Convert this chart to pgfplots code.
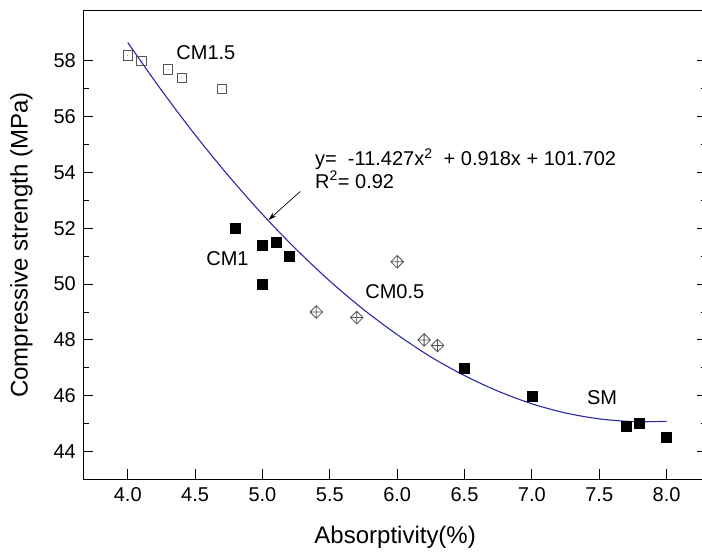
\documentclass[border=0pt]{standalone}
\usepackage{pgfplots}
\pgfplotsset{compat=1.18}
\usepackage{fontspec}
\setmainfont{Liberation Sans}
\usetikzlibrary{arrows.meta}
\definecolor{fitblue}{RGB}{42,42,165}
\definecolor{mgray}{RGB}{85,85,85}
\pgfdeclareplotmark{dsquare}{%
  \pgfpathrectangle{\pgfqpoint{-\pgfplotmarksize}{-\pgfplotmarksize}}{\pgfqpoint{2\pgfplotmarksize}{2\pgfplotmarksize}}%
  \pgfusepathqstroke
  \pgfpathcircle{\pgfpointorigin}{0.45pt}\pgfusepathqfill}
\pgfdeclareplotmark{xdiamond}{%
  \pgfpathmoveto{\pgfqpoint{0pt}{\pgfplotmarksize}}%
  \pgfpathlineto{\pgfqpoint{\pgfplotmarksize}{0pt}}%
  \pgfpathlineto{\pgfqpoint{0pt}{-\pgfplotmarksize}}%
  \pgfpathlineto{\pgfqpoint{-\pgfplotmarksize}{0pt}}%
  \pgfpathclose
  \pgfpathmoveto{\pgfqpoint{0pt}{\pgfplotmarksize}}\pgfpathlineto{\pgfqpoint{0pt}{-\pgfplotmarksize}}%
  \pgfpathmoveto{\pgfqpoint{\pgfplotmarksize}{0pt}}\pgfpathlineto{\pgfqpoint{-\pgfplotmarksize}{0pt}}%
  \pgfusepathqstroke}
\begin{document}
\begin{tikzpicture}
\begin{axis}[
  scale only axis, width=623.7pt, height=468.7pt,
  xmin=3.67, xmax=8.3, ymin=43, ymax=59.8,
  xtick={4,4.5,5,5.5,6,6.5,7,7.5,8},
  ytick={44,46,48,50,52,54,56,58},
  minor y tick num=1,
  xtick pos=lower, ytick pos=both,
  tick align=inside,
  major tick length=10pt, minor tick length=6pt,
  tick style={black, line width=0.9pt},
  axis line style={black, line width=1pt},
  /pgf/number format/assume math mode=true,
  ticklabel style={font=\fontsize{20}{24}\selectfont},
  x tick label style={/pgf/number format/fixed, /pgf/number format/fixed zerofill, /pgf/number format/precision=1, yshift=-4.5pt},
  y tick label style={xshift=-4pt},
  xlabel={Absorptivity(\%)},
  ylabel={Compressive strength (MPa)},
  every axis x label/.style={at={(axis description cs:0.5,0)}, anchor=center, yshift=-58pt, font=\fontsize{24}{28}\selectfont},
  every axis y label/.style={at={(axis description cs:-0.0994,0.5)}, anchor=center, rotate=90, font=\fontsize{24}{28}\selectfont},
  clip=false,
]
% fitted curve
\addplot[fitblue, line width=1.1pt, smooth, no marks] coordinates {
 (4.00,58.66) (4.25,56.95) (4.50,55.35) (4.75,53.87) (5.00,52.50)
 (5.25,51.25) (5.50,50.11) (5.75,49.09) (6.00,48.19) (6.25,47.39)
 (6.50,46.72) (6.75,46.16) (7.00,45.71) (7.25,45.38) (7.50,45.17)
 (7.75,45.07) (8.00,45.08)};
% CM1.5
\addplot[only marks, mark=dsquare, mark size=4.7pt, mgray, line width=0.8pt] coordinates {
 (4.0,58.2) (4.1,58.0) (4.3,57.7) (4.4,57.4) (4.7,57.0)};
% CM1
\addplot[only marks, mark=square*, mark size=5pt, black] coordinates {
 (4.8,52.0) (5.0,51.4) (5.1,51.5) (5.2,51.0) (5.0,50.0)};
% CM0.5
\addplot[only marks, mark=xdiamond, mark size=6.3pt, mgray, line width=0.8pt] coordinates {
 (5.4,49.0) (5.7,48.8) (6.0,50.8) (6.2,48.0) (6.3,47.8)};
% SM
\addplot[only marks, mark=square*, mark size=5pt, black] coordinates {
 (6.5,47.0) (7.0,46.0) (7.7,44.9) (7.8,45.0) (8.0,44.5)};
% annotations
\node[anchor=base west, font=\fontsize{20}{24}\selectfont, inner sep=0pt] at (axis cs:4.36,58.04) {CM1.5};
\node[anchor=base west, font=\fontsize{20}{24}\selectfont, inner sep=0pt] at (axis cs:4.582,50.67) {CM1};
\node[anchor=base west, font=\fontsize{20}{24}\selectfont, inner sep=0pt] at (axis cs:5.762,49.49) {CM0.5};
\node[anchor=base west, font=\fontsize{20}{24}\selectfont, inner sep=0pt] at (axis cs:7.408,45.70) {SM};
\node[anchor=base west, font=\fontsize{20}{24}\selectfont, inner sep=0pt] at (axis cs:5.39,54.25) {y=\ \ -11.427x\textsuperscript{2}\ \ + 0.918x + 101.702};
\node[anchor=base west, font=\fontsize{20}{24}\selectfont, inner sep=0pt] at (axis cs:5.39,53.44) {R\textsuperscript{2}= 0.92};
\draw[line width=0.7pt, -{Stealth[length=8pt,width=5pt]}] (axis cs:5.28,53.32) -- (axis cs:5.045,52.30);
\end{axis}
\pgfresetboundingbox
\path[use as bounding box] (-83.3pt,-74.3pt) rectangle (618.7pt,479.4pt);
\end{tikzpicture}
\end{document}
